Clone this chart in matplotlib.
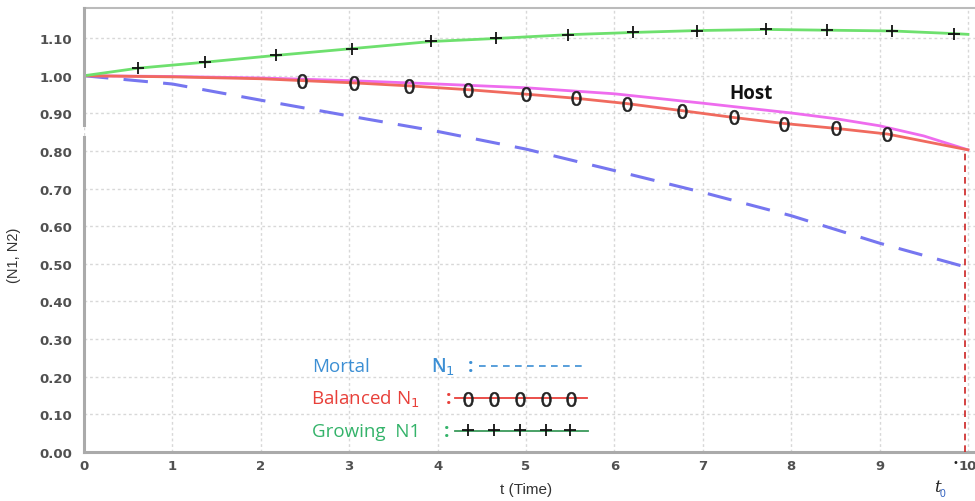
import matplotlib
matplotlib.use('Agg')
import matplotlib.pyplot as plt
from matplotlib.lines import Line2D

# ---------------- data ----------------
t_grid = [0, 1, 2, 3, 4, 5, 6, 7, 8, 9, 10]
mortal = [1.00, 0.978, 0.935, 0.893, 0.852, 0.805, 0.748, 0.690, 0.628, 0.555, 0.490]

host_t = [0, 1, 2, 3, 4, 5, 6, 7, 8, 8.5, 9, 9.5, 10]
host = [1.00, 0.998, 0.994, 0.987, 0.978, 0.968, 0.952, 0.927, 0.901, 0.886, 0.867, 0.840, 0.803]

balanced_t = [0, 1, 2, 2.47, 3.05, 3.68, 4.34, 5.00, 5.57, 6.14, 6.77, 7.35, 7.92, 8.51, 9.09, 10]
balanced = [1.00, 0.997, 0.992, 0.987, 0.981, 0.973, 0.963, 0.951, 0.940, 0.926, 0.907,
            0.889, 0.873, 0.860, 0.845, 0.803]

growing_t = [0, 0.61, 1.37, 2.17, 3.03, 3.93, 4.66, 5.47, 6.21, 6.93, 7.72, 8.41, 9.14, 9.84, 10]
growing = [1.00, 1.020, 1.036, 1.054, 1.072, 1.091, 1.099, 1.109, 1.115, 1.120, 1.123,
           1.121, 1.119, 1.112, 1.110]

t0 = 9.97
t0_value = 0.803

x_ticks = [0, 1, 2, 3, 4, 5, 6, 7, 8, 9, 10]
y_ticks = [0.0, 0.1, 0.2, 0.3, 0.4, 0.5, 0.6, 0.7, 0.8, 0.9, 1.0, 1.1]

# ---------------- figure ----------------
W, H = 975, 502
fig = plt.figure(figsize=(W / 100, H / 100), dpi=100)
left_px, right_px, top_px, bot_px = 84, 975, 9, 453
ax = fig.add_axes([left_px / W, 1 - bot_px / H, (right_px - left_px) / W, (bot_px - top_px) / H])

def fx(px):
    return px / W

def fy(py):
    return 1 - py / H

ax.set_xlim(0, 10.08)
ax.set_ylim(0, 1.18)

C_MORTAL = '#7676f0'
C_BAL = '#f06a5e'
C_HOST = '#ee6cee'
C_GROW = '#6ee06e'

ax.plot(t_grid, mortal, color=C_MORTAL, lw=2.2, dashes=(8, 5), zorder=3)
ax.plot(host_t, host, color=C_HOST, lw=2.0, zorder=3)
ax.plot(balanced_t, balanced, color=C_BAL, lw=2.0, zorder=4,
        marker='$0$', markersize=10.5, markerfacecolor='#222222', markeredgecolor='#222222',
        markeredgewidth=0.4, markevery=list(range(3, 15)))
ax.plot(growing_t, growing, color=C_GROW, lw=2.0, zorder=4,
        marker='+', markersize=8, markeredgecolor='#111111', markeredgewidth=1.3,
        markevery=list(range(1, 14)))

# t0 vertical dashed line
ax.plot([t0, t0], [0, t0_value], color='#cc2222', lw=1.2, dashes=(4, 3), zorder=5)

# "Host" label
ax.text(7.55, 0.955, 'Host', fontsize=13.5, fontweight='bold', family='Open Sans',
        ha='center', va='center', color='#111111')

# grid / ticks
ax.set_xticks(x_ticks)
ax.set_yticks(y_ticks)
ax.set_xticklabels([str(v) for v in x_ticks])
ax.set_yticklabels(['%.2f' % v for v in y_ticks])
ax.grid(True, color='#d8d8d8', lw=1.0, linestyle=(0, (2, 2)))
ax.set_axisbelow(True)
ax.tick_params(length=0, labelsize=9.5, labelcolor='#505050')
ax.tick_params(axis='y', pad=8.5)
ax.tick_params(axis='x', pad=5)
for lab in ax.get_xticklabels() + ax.get_yticklabels():
    lab.set_fontweight('bold')
    lab.set_family('DejaVu Sans')

ax.spines['right'].set_visible(False)
ax.spines['top'].set_color('#bbbbbb')
ax.spines['top'].set_linewidth(1.5)
ax.spines['bottom'].set_color('#aaaaaa')
ax.spines['bottom'].set_linewidth(2.2)
ax.spines['left'].set_visible(False)
# broken left spine
tr = ax.get_yaxis_transform()
ax.plot([0, 0], [0, 0.838], transform=tr, color='#aaaaaa', lw=2.2, clip_on=False, zorder=6)
ax.plot([0, 0], [0.868, 1.18], transform=tr, color='#aaaaaa', lw=2.2, clip_on=False, zorder=6)

# axis labels
fig.text(fx(526), fy(490), 't (Time)', fontsize=11, color='#333333', ha='center', va='center',
         family='Liberation Sans')
fig.text(fx(14), fy(255), '(N1, N2)', fontsize=10.5, color='#333333', ha='center', va='center',
         rotation=90, family='Liberation Sans')

# t0 annotation
fig.text(fx(937), fy(488), 't', fontsize=12, style='italic', color='#222222', ha='center',
         va='center', family='DejaVu Serif')
fig.text(fx(943), fy(494), '0', fontsize=7.5, color='#3060c0', ha='center', va='center',
         family='Liberation Sans')
fig.text(fx(955), fy(463), '•', fontsize=7, color='#222222', ha='center', va='center')

# ---------------- custom legend ----------------
LF = ['Open Sans', 'DejaVu Sans']
fs = 13.5
C_T_MORT = '#3c8fd4'
C_T_BAL = '#e8403a'
C_T_GROW = '#34b36a'

fig.text(fx(312), fy(367), 'Mortal', fontsize=fs, color=C_T_MORT, ha='left', va='center', family=LF)
fig.text(fx(431), fy(367), r'N$_1$', fontsize=fs, color=C_T_MORT, ha='left', va='center',
         family=LF, fontweight='semibold')
fig.text(fx(468), fy(367), ':', fontsize=fs, color=C_T_MORT, ha='left', va='center', family=LF,
         fontweight='bold')
fig.add_artist(Line2D([fx(479), fx(582)], [fy(367), fy(367)], color=C_T_MORT, lw=1.2,
                      dashes=(4, 3.2)))

fig.text(fx(311), fy(399), r'Balanced N$_1$', fontsize=fs, color=C_T_BAL, ha='left', va='center',
         family=LF)
fig.text(fx(446), fy(399), ':', fontsize=fs, color=C_T_BAL, ha='left', va='center', family=LF,
         fontweight='bold')
fig.add_artist(Line2D([fx(455), fx(587)], [fy(399), fy(399)], color=C_T_BAL, lw=1.3))
for px in [468, 494, 520, 546, 571]:
    fig.add_artist(Line2D([fx(px)], [fy(400)], marker='$0$', markersize=10.5, color='#222222',
                          markeredgewidth=0.4, linestyle='none'))

fig.text(fx(312), fy(432), 'Growing  N1', fontsize=fs, color=C_T_GROW, ha='left', va='center',
         family=LF)
fig.text(fx(444), fy(432), ':', fontsize=fs, color=C_T_GROW, ha='left', va='center', family=LF,
         fontweight='bold')
fig.add_artist(Line2D([fx(455), fx(588)], [fy(432), fy(432)], color='#3a9a5a', lw=1.3))
for px in [468, 494, 520, 546, 570]:
    fig.add_artist(Line2D([fx(px)], [fy(431)], marker='+', markersize=8, color='#111111',
                          markeredgewidth=1.3, linestyle='none'))

fig.savefig('out.png', dpi=100)
